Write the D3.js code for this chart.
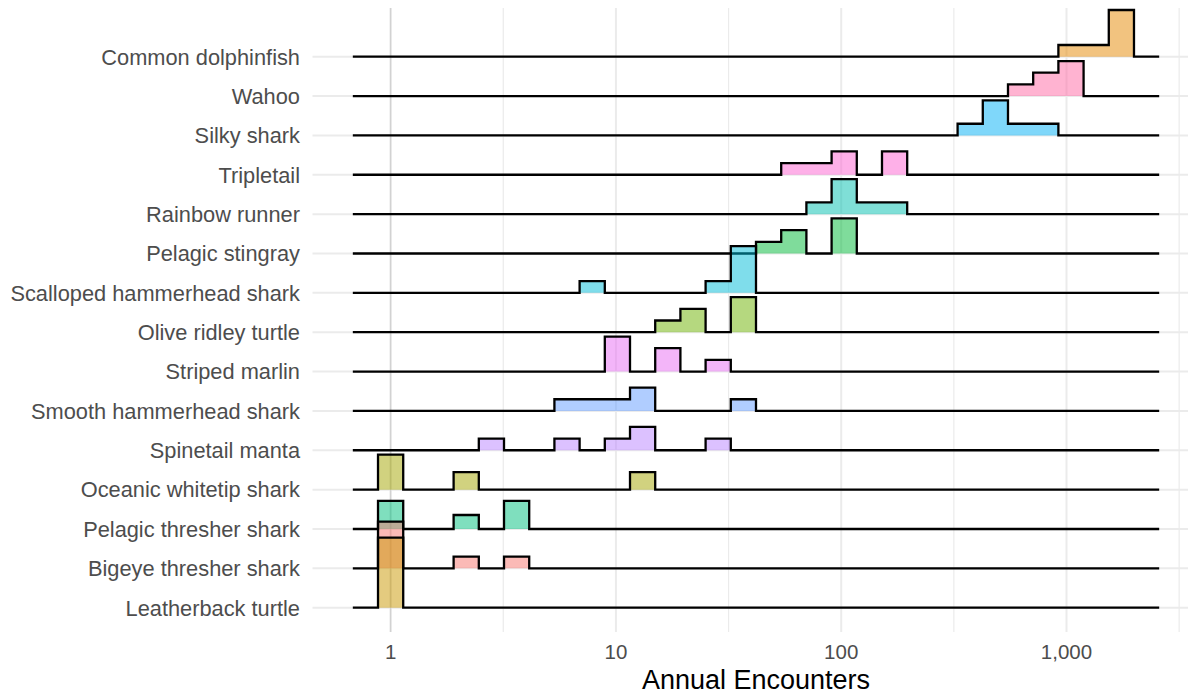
<!DOCTYPE html>
<html>
<head>
<meta charset="utf-8">
<script src="https://cdn.jsdelivr.net/npm/d3@7"></script>
<style>
  body { margin: 0; background: #fff; }
  text { font-family: "Liberation Sans", Arial, Helvetica, sans-serif; }
</style>
</head>
<body>
<svg id="chart" width="1188" height="694"></svg>
<script>
// Species rows, bottom row first
const species = [
  "Leatherback turtle", "Bigeye thresher shark", "Pelagic thresher shark",
  "Oceanic whitetip shark", "Spinetail manta", "Smooth hammerhead shark",
  "Striped marlin", "Olive ridley turtle", "Scalloped hammerhead shark",
  "Pelagic stingray", "Rainbow runner", "Tripletail", "Silky shark",
  "Wahoo", "Common dolphinfish"
];

// Annual encounters recorded for each species (one value per year)
const leatherback      = [1, 1, 1, 1, 1, 1];
const bigeyeThresher   = [1, 1, 1, 1, 2, 4];
const pelagicThresher  = [1, 1, 2, 4, 4];
const oceanicWhitetip  = [1, 1, 2, 13];
const spinetailManta   = [3, 6, 10, 12, 14, 28];
const smoothHammerhead = [6, 8, 10, 12, 14, 37];
const stripedMarlin    = [9, 10, 11, 16, 18, 30];
const oliveRidley      = [16, 21, 23, 34, 36, 39];
const scallopedHammer  = [8, 29, 34, 36, 38, 40];
const pelagicStingray  = [47, 58, 65, 95, 103, 110];
const rainbowRunner    = [78, 95, 102, 110, 130, 175];
const tripletail       = [60, 80, 98, 108, 165, 180];
const silkyShark       = [370, 450, 480, 520, 620, 800];
const wahoo            = [620, 760, 850, 980, 1050, 1150];
const dolphinfish      = [1000, 1300, 1600, 1680, 1720, 1752];

const encounters = [
  leatherback, bigeyeThresher, pelagicThresher, oceanicWhitetip, spinetailManta,
  smoothHammerhead, stripedMarlin, oliveRidley, scallopedHammer, pelagicStingray,
  rainbowRunner, tripletail, silkyShark, wahoo, dolphinfish
];

// Axis ticks
const majorTicks = [1, 10, 100, 1000];
const minorTicks = [Math.sqrt(10), Math.sqrt(1000), Math.sqrt(1e5), Math.sqrt(1e7)];

// Fill colours, assigned to species in alphabetical order
const hueColors = ["#F8766D", "#E58700", "#C99800", "#A3A500", "#6BB100", "#00BA38",
  "#00BF7D", "#00C0AF", "#00BCD8", "#00B0F6", "#619CFF", "#B983FF", "#E76BF3",
  "#FD61D1", "#FF67A4"];

const W = 1188, H = 694;
const panel = { left: 312.5, right: 1199.5, top: 8, bottom: 632 };

const svg = d3.select("#chart");
svg.append("rect").attr("width", W).attr("height", H).attr("fill", "#fff");

// ---- binning in log10 space: 30 bins, first/last centred on the data extremes
const nBins = 30;
const [lo, hi] = d3.extent(encounters.flat().map(Math.log10));
const bw = (hi - lo) / (nBins - 1);
// edges for bins -1..30 (one empty pad bin on each side)
const edges = d3.range(-1, nBins + 2).map(k => lo + (k - 0.5) * bw);
const binner = d3.bin()
  .value(d => Math.log10(d))
  .domain([edges[0], edges[edges.length - 1]])
  .thresholds(edges.slice(1, -1));

// ---- scales
const span = edges[edges.length - 1] - edges[0];
const x = d3.scaleLog()
  .domain([Math.pow(10, edges[0] - 0.05 * span), Math.pow(10, edges[edges.length - 1] + 0.05 * span)])
  .range([panel.left, panel.right]);

const y = d3.scalePoint()
  .domain(species.slice().reverse())
  .range([56.7, 607.7]);

const step = y.step();
const heightScale = d3.scaleLinear().domain([0, 1]).range([0, 1.78 * step]);

const color = d3.scaleOrdinal()
  .domain(species.slice().sort(d3.ascending))
  .range(hueColors);

// ---- grid
const grid = svg.append("g");
grid.selectAll("line.minor").data(minorTicks).join("line")
  .attr("x1", d => x(d)).attr("x2", d => x(d))
  .attr("y1", panel.top).attr("y2", panel.bottom)
  .attr("stroke", "#ebebeb").attr("stroke-width", 1.2);
grid.selectAll("line.major").data(majorTicks).join("line")
  .attr("x1", d => x(d)).attr("x2", d => x(d))
  .attr("y1", panel.top).attr("y2", panel.bottom)
  .attr("stroke", "#ebebeb").attr("stroke-width", 2);
grid.selectAll("line.row").data(species).join("line")
  .attr("x1", panel.left).attr("x2", panel.right)
  .attr("y1", d => y(d)).attr("y2", d => y(d))
  .attr("stroke", "#ebebeb").attr("stroke-width", 2);
// reference line at one encounter per year
grid.append("line")
  .attr("x1", x(1)).attr("x2", x(1))
  .attr("y1", panel.top).attr("y2", panel.bottom)
  .attr("stroke", "#d2d2d2").attr("stroke-width", 1.4);

// ---- ridgelines (top row first so lower rows sit in front)
const line = d3.line();
const ridges = svg.append("g");
species.map((name, i) => ({ name, values: encounters[i] }))
  .reverse()
  .forEach(s => {
    const bins = binner(s.values);
    const n = s.values.length;
    const base = y(s.name);
    const pts = [[x(Math.pow(10, bins[0].x0)), base]];
    bins.forEach(b => {
      const h = base - heightScale(b.length / n);
      pts.push([x(Math.pow(10, b.x0)), h]);
      pts.push([x(Math.pow(10, b.x1)), h]);
    });
    pts.push([x(Math.pow(10, bins[bins.length - 1].x1)), base]);

    ridges.append("path")
      .attr("d", line(pts) + "Z")
      .attr("fill", color(s.name))
      .attr("fill-opacity", 0.5)
      .attr("stroke", "none");
    ridges.append("path")
      .attr("d", line(pts))
      .attr("fill", "none")
      .attr("stroke", "#000")
      .attr("stroke-width", 2.3)
      .attr("stroke-linejoin", "miter");
  });

// ---- axis labels
svg.append("g").selectAll("text").data(species).join("text")
  .attr("x", 300)
  .attr("y", d => y(d))
  .attr("dy", "0.36em")
  .attr("text-anchor", "end")
  .attr("font-size", 21.8)
  .attr("fill", "#4d4d4d")
  .text(d => d);

svg.append("g").selectAll("text").data(majorTicks).join("text")
  .attr("x", d => x(d))
  .attr("y", 659)
  .attr("text-anchor", "middle")
  .attr("font-size", 20.5)
  .attr("fill", "#4d4d4d")
  .text(d => d3.format(",")(d));

svg.append("text")
  .attr("x", (panel.left + panel.right) / 2)
  .attr("y", 689)
  .attr("text-anchor", "middle")
  .attr("font-size", 27)
  .attr("fill", "#000")
  .text("Annual Encounters");
</script>
</body>
</html>
